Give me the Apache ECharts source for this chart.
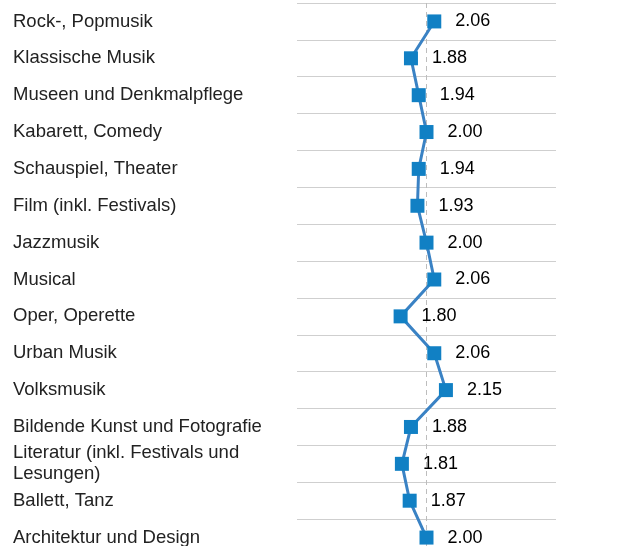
<!DOCTYPE html>
<html><head><meta charset="utf-8">
<script src="https://cdn.jsdelivr.net/npm/echarts@6/dist/echarts.min.js"></script>
<style>html,body{margin:0;padding:0;background:#fff}#c{width:629px;height:546px}</style>
</head><body><div id="c"></div>
<script>
var categories = [
  "Rock-, Popmusik",
  "Klassische Musik",
  "Museen und Denkmalpflege",
  "Kabarett, Comedy",
  "Schauspiel, Theater",
  "Film (inkl. Festivals)",
  "Jazzmusik",
  "Musical",
  "Oper, Operette",
  "Urban Musik",
  "Volksmusik",
  "Bildende Kunst und Fotografie",
  "Literatur (inkl. Festivals und\nLesungen)",
  "Ballett, Tanz",
  "Architektur und Design"
];
var values = [2.06, 1.88, 1.94, 2.00, 1.94, 1.93, 2.00, 2.06, 1.80, 2.06, 2.15, 1.88, 1.81, 1.87, 2.00];
var axisMin = 1, axisMax = 3, axisStep = 1;

var chart = echarts.init(document.getElementById('c'), null, {renderer: 'canvas'});
chart.setOption({
  animation: false,
  grid: {left: 297, width: 259, top: 3, height: 553, containLabel: false, outerBoundsMode: 'none'},
  xAxis: {
    type: 'value', min: axisMin, max: axisMax, interval: axisStep,
    axisLine: {show: false}, axisTick: {show: false}, axisLabel: {show: false},
    splitLine: {show: true, lineStyle: {color: ['rgba(0,0,0,0)', '#bdbdbd', 'rgba(0,0,0,0)'], type: [5, 4], width: 1}}
  },
  yAxis: {
    type: 'category', inverse: true, data: categories,
    axisLine: {show: false}, axisTick: {show: false},
    splitLine: {show: true, lineStyle: {color: '#cfcfcf', width: 1}},
    axisLabel: {
      align: 'left', margin: 284, fontSize: 18.5, lineHeight: 21,
      color: '#222', fontFamily: 'Liberation Sans, Arial, sans-serif'
    }
  },
  series: [{
    type: 'line', data: values, z: 3,
    symbol: 'rect', symbolSize: 14,
    itemStyle: {color: '#1180c4'},
    lineStyle: {color: '#3a82c4', width: 3},
    label: {
      show: true, position: 'right', distance: 14,
      fontSize: 18, color: '#000',
      fontFamily: 'Liberation Sans, Arial, sans-serif',
      formatter: function (p) { return p.value.toFixed(2); }
    }
  }]
});
</script></body></html>
